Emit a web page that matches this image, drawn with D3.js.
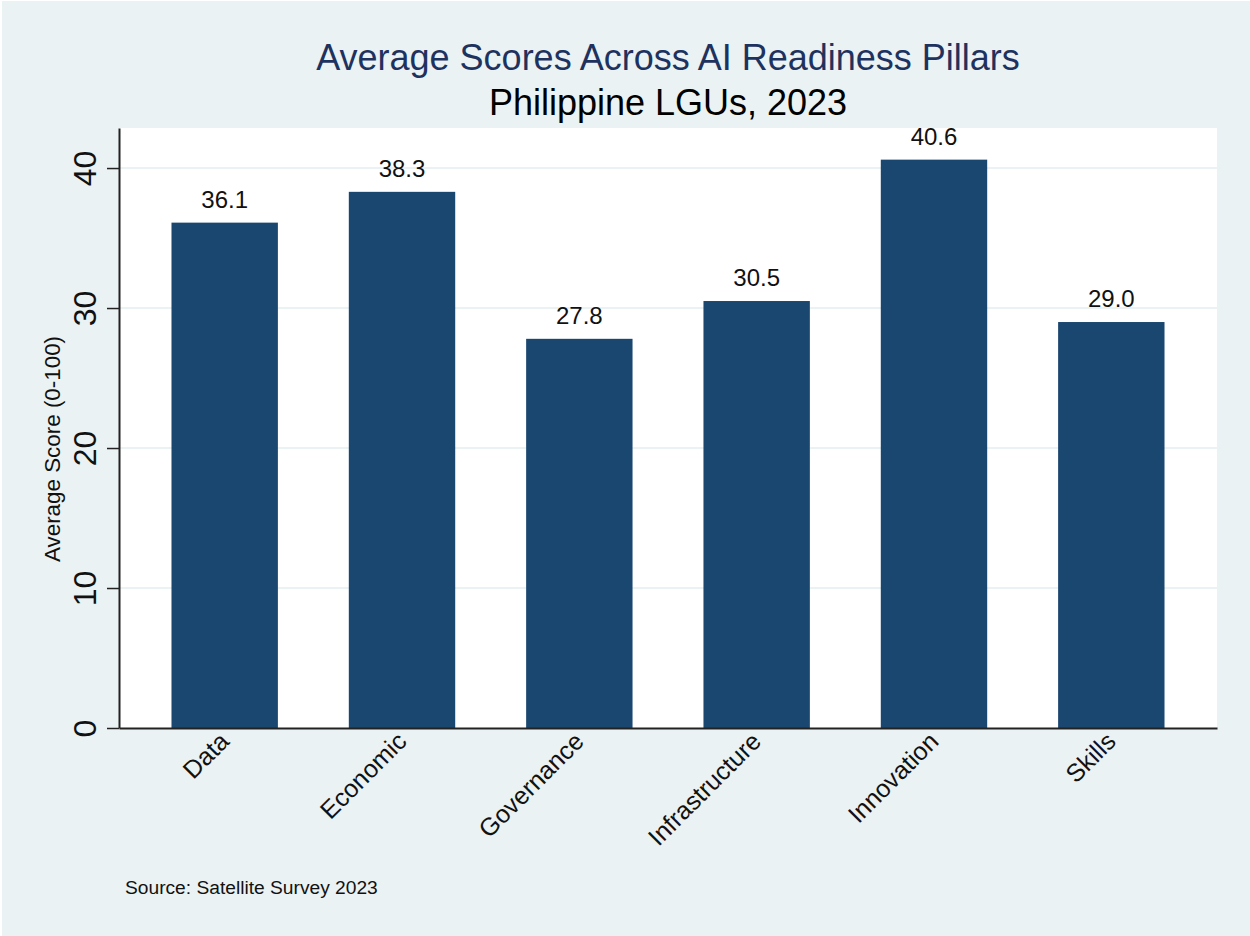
<!DOCTYPE html>
<html>
<head>
<meta charset="utf-8">
<script src="https://cdn.jsdelivr.net/npm/d3@7"></script>
<style>
  body { margin: 0; background: #fff; }
  text { font-family: Arial, "Liberation Sans", sans-serif; }
</style>
</head>
<body>
<div id="chart"></div>
<script>
// data
var pillars = ["Data", "Economic", "Governance", "Infrastructure", "Innovation", "Skills"];
var scores = [36.1, 38.3, 27.8, 30.5, 40.6, 29.0];
var yTicks = [0, 10, 20, 30, 40];

var W = 1250, H = 936;
var margin = { top: 128, right: 33, bottom: 208, left: 119 };
var width = W - margin.left - margin.right,
    height = H - margin.top - margin.bottom;

var svg = d3.select("#chart")
    .append("svg")
    .attr("width", W)
    .attr("height", H);

// outer graph region
svg.append("rect")
    .attr("x", 2).attr("y", 1)
    .attr("width", W - 2).attr("height", H - 1)
    .style("fill", "#EAF2F3");

var g = svg.append("g")
    .attr("transform", "translate(" + margin.left + "," + margin.top + ")");

// plot region
g.append("rect")
    .attr("width", width)
    .attr("height", height)
    .style("fill", "#fff");

var x = d3.scaleBand()
    .domain(pillars)
    .range([0, width])
    .paddingInner(0.4)
    .paddingOuter(0.296);

var y = d3.scaleLinear()
    .domain([0, 42.86])
    .range([height, 0]);

// gridlines
g.selectAll(".grid")
    .data(yTicks.filter(function (d) { return d > 0; }))
    .enter().append("line")
    .attr("x1", 0).attr("x2", width)
    .attr("y1", function (d) { return y(d); })
    .attr("y2", function (d) { return y(d); })
    .style("stroke", "#EAF2F3")
    .style("stroke-width", 2);

// bars
g.selectAll(".bar")
    .data(scores)
    .enter().append("rect")
    .attr("x", function (d, i) { return x(pillars[i]); })
    .attr("y", function (d) { return y(d); })
    .attr("width", x.bandwidth())
    .attr("height", function (d) { return height - y(d); })
    .style("fill", "#1A476F");

// value labels
g.selectAll(".lbl")
    .data(scores)
    .enter().append("text")
    .attr("x", function (d, i) { return x(pillars[i]) + x.bandwidth() / 2; })
    .attr("y", function (d) { return y(d) - 15; })
    .attr("text-anchor", "middle")
    .style("font-size", "24px")
    .style("fill", "#111")
    .text(function (d) { return d.toFixed(1); });

// Y axis
var yAxis = g.append("g")
    .call(d3.axisLeft(y).tickValues(yTicks).tickSize(12).tickSizeOuter(0));
yAxis.select(".domain").style("stroke", "#222").style("stroke-width", 2);
yAxis.selectAll(".tick line").style("stroke", "#222").style("stroke-width", 1.5);
yAxis.selectAll(".tick text")
    .style("font-size", "32px")
    .style("fill", "#111")
    .attr("text-anchor", "middle")
    .attr("x", 0).attr("dy", 0)
    .attr("transform", "translate(-23,0) rotate(-90)")
    .attr("y", 0);

// X axis
var xAxis = g.append("g")
    .attr("transform", "translate(0," + height + ")")
    .call(d3.axisBottom(x).tickSize(0).tickSizeOuter(0));
xAxis.select(".domain").style("stroke", "#222").style("stroke-width", 2);
xAxis.selectAll(".tick text")
    .style("font-size", "25px")
    .style("fill", "#111")
    .attr("text-anchor", "end")
    .attr("dy", 0).attr("y", 0)
    .attr("transform", "translate(6,15) rotate(-45)");

// axis title
svg.append("text")
    .attr("transform", "translate(60,449) rotate(-90)")
    .attr("text-anchor", "middle")
    .style("font-size", "22.4px")
    .style("fill", "#111")
    .text("Average Score (0-100)");

// titles
svg.append("text")
    .attr("x", margin.left + width / 2)
    .attr("y", 70)
    .attr("text-anchor", "middle")
    .style("font-size", "36px")
    .style("fill", "#1E3260")
    .text("Average Scores Across AI Readiness Pillars");

svg.append("text")
    .attr("x", margin.left + width / 2)
    .attr("y", 115)
    .attr("text-anchor", "middle")
    .style("font-size", "36px")
    .style("fill", "#000")
    .text("Philippine LGUs, 2023");

// note
svg.append("text")
    .attr("x", 125)
    .attr("y", 894)
    .style("font-size", "19.2px")
    .style("fill", "#111")
    .text("Source: Satellite Survey 2023");
</script>
</body>
</html>
